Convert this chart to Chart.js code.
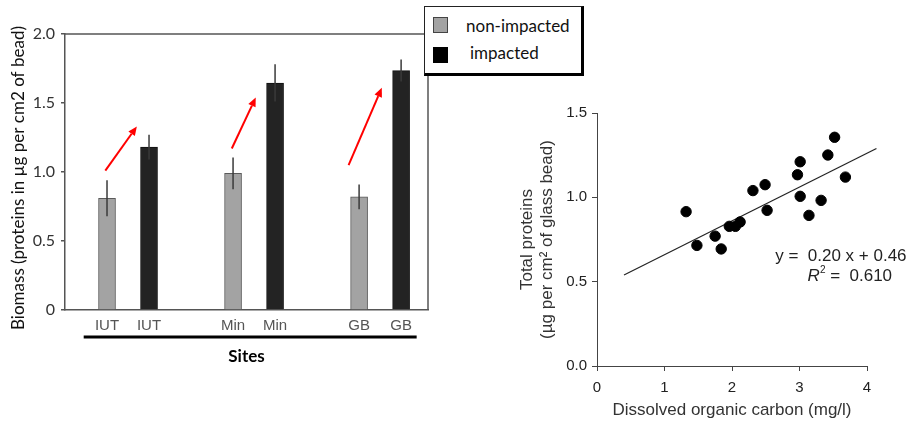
<!DOCTYPE html>
<html>
<head>
<meta charset="utf-8">
<script src="https://cdn.jsdelivr.net/npm/chart.js@4.4.0/dist/chart.umd.min.js"></script>
<style>
    html, body { margin: 0; padding: 0; background: #fff; }
    body { width: 907px; height: 423px; position: relative; overflow: hidden; }
    #barBox { position: absolute; left: 0; top: 0; width: 440px; height: 380px; }
    #scatterBox { position: absolute; left: 500px; top: 90px; width: 407px; height: 333px; }
    .legend {
        position: absolute; left: 424px; top: 6px; width: 156px; height: 66px;
        background: #fff; border: 1px solid #222; border-right: 3px solid #000; border-bottom: 3px solid #000;
        font-family: Lato, sans-serif; font-size: 17px; color: #111; z-index: 2;
    }
    .legend .sw { position: absolute; left: 8px; width: 13px; height: 14px; border: 1px solid #444; }
    .legend .lbl { position: absolute; line-height: 20px; }
</style>
</head>
<body>
<div id="barBox"><canvas id="barChart" width="440" height="380"></canvas></div>
<div id="scatterBox"><canvas id="scatterChart" width="407" height="333"></canvas></div>
<div class="legend">
    <div class="sw" style="top:10px; background:#a3a3a3;"></div>
    <div class="lbl" style="left:41px; top:9px;">non-impacted</div>
    <div class="sw" style="top:40px; background:#000; border-color:#000;"></div>
    <div class="lbl" style="left:45px; top:36px;">impacted</div>
</div>
<script>
// ---- left chart: biomass per site ----
const siteLabels = ['IUT', 'IUT', 'Min', 'Min', 'GB', 'GB'];
const siteTicks = [1, 2, 4, 5, 7, 8];
const nonImpactedX = [1, 4, 7];
const nonImpacted = [0.81, 0.99, 0.82];
const nonImpactedErr = [0.13, 0.115, 0.09];
const impactedX = [2, 5, 8];
const impacted = [1.18, 1.645, 1.735];
const impactedErr = [0.09, 0.135, 0.08];
const biomassTicks = [0, 0.5, 1.0, 1.5, 2.0];
const biomassTitle = 'Biomass (proteins in µg per cm2 of bead)';

// red arrows (data coordinates)
const arrowStartX = [0.96, 3.97, 6.75];
const arrowStartY = [1.01, 1.17, 1.05];
const arrowEndX = [1.71, 4.54, 7.54];
const arrowEndY = [1.33, 1.54, 1.61];
const sitesLineX = [0.445, 8.37];

// ---- right chart: proteins vs DOC ----
const docX = [1.32, 1.48, 1.75, 1.84, 1.96, 2.05, 2.12, 2.31, 2.49, 2.52, 2.97, 3.01, 3.01, 3.14, 3.32, 3.42, 3.52, 3.68];
const proteinY = [0.915, 0.715, 0.77, 0.694, 0.828, 0.828, 0.854, 1.04, 1.075, 0.923, 1.134, 1.211, 1.006, 0.893, 0.982, 1.251, 1.356, 1.12];
const fitX = [0.4, 4.14];
const fitY = [0.54, 1.29];
const eqText = 'y =  0.20 x + 0.46';
const r2Text = ' =  0.610';
const eqPos = { x: 2.64, y: 0.652 };
const r2Pos = { x: 3.12, y: 0.533 };

const toPoints = (xs, ys) => xs.map((v, i) => ({ x: v, y: ys[i] }));

// error bars, top/right frame, arrows, bracket line under labels, y title
const barExtras = {
    id: 'barExtras',
    afterDatasetsDraw(chart) {
        const { ctx, chartArea, scales: { x, y } } = chart;
        ctx.save();
        // error bars
        chart.data.datasets.forEach(ds => {
            ds.data.forEach((p, i) => {
                const px = x.getPixelForValue(p.x);
                ctx.strokeStyle = '#3a3a3a';
                ctx.lineWidth = 1.5;
                ctx.beginPath();
                ctx.moveTo(px, y.getPixelForValue(p.y + ds.errors[i]));
                ctx.lineTo(px, y.getPixelForValue(p.y - ds.errors[i]));
                ctx.stroke();
            });
        });
        // frame top & right
        ctx.strokeStyle = '#555';
        ctx.lineWidth = 1.5;
        ctx.beginPath();
        ctx.moveTo(chartArea.left, chartArea.top);
        ctx.lineTo(chartArea.right, chartArea.top);
        ctx.lineTo(chartArea.right, chartArea.bottom);
        ctx.stroke();
        // arrows
        ctx.strokeStyle = ctx.fillStyle = '#ff0000';
        ctx.lineWidth = 2;
        arrowStartX.forEach((_, i) => {
            const x1 = x.getPixelForValue(arrowStartX[i]), y1 = y.getPixelForValue(arrowStartY[i]);
            const x2 = x.getPixelForValue(arrowEndX[i]), y2 = y.getPixelForValue(arrowEndY[i]);
            const a = Math.atan2(y2 - y1, x2 - x1);
            const head = 9, half = 4;
            const bx = x2 - head * Math.cos(a), by = y2 - head * Math.sin(a);
            ctx.beginPath();
            ctx.moveTo(x1, y1);
            ctx.lineTo(bx, by);
            ctx.stroke();
            ctx.beginPath();
            ctx.moveTo(x2, y2);
            ctx.lineTo(bx + half * Math.sin(a), by - half * Math.cos(a));
            ctx.lineTo(bx - half * Math.sin(a), by + half * Math.cos(a));
            ctx.closePath();
            ctx.fill();
        });
        // black line grouping the site labels
        ctx.strokeStyle = '#000';
        ctx.lineWidth = 3;
        ctx.beginPath();
        ctx.moveTo(x.getPixelForValue(sitesLineX[0]), chartArea.bottom + 27);
        ctx.lineTo(x.getPixelForValue(sitesLineX[1]), chartArea.bottom + 27);
        ctx.stroke();
        // y axis title (a bit lower than the axis centre, as in the original)
        ctx.translate(18.5, (chartArea.top + chartArea.bottom) / 2 + 6);
        ctx.rotate(-Math.PI / 2);
        ctx.fillStyle = '#111';
        ctx.font = '17px Lato, sans-serif';
        ctx.textAlign = 'center';
        ctx.textBaseline = 'middle';
        ctx.fillText(biomassTitle, 0, 0);
        ctx.restore();
    }
};

new Chart(document.getElementById('barChart'), {
    type: 'bar',
    data: {
        datasets: [
            {
                label: 'non-impacted',
                data: toPoints(nonImpactedX, nonImpacted),
                errors: nonImpactedErr,
                backgroundColor: '#a3a3a3',
                borderColor: '#5a5a5a',
                borderWidth: 1
            },
            {
                label: 'impacted',
                data: toPoints(impactedX, impacted),
                errors: impactedErr,
                backgroundColor: '#232323',
                borderColor: '#111',
                borderWidth: 1
            }
        ]
    },
    options: {
        responsive: false,
        animation: false,
        grouped: false,
        barThickness: 17,
        layout: { padding: { top: 34, right: 12, left: 0, bottom: 0 } },
        plugins: { legend: { display: false }, tooltip: { enabled: false } },
        scales: {
            x: {
                type: 'linear',
                min: 0,
                max: 8.64,
                offset: false,
                grid: { display: false },
                border: { display: true, color: '#555', width: 1.5 },
                afterBuildTicks: s => { s.ticks = siteTicks.map(v => ({ value: v })); },
                afterFit: s => { s.height = 70; },
                ticks: {
                    autoSkip: false,
                    maxRotation: 0,
                    padding: -1,
                    color: '#555',
                    font: { family: "'Liberation Sans', Arial, sans-serif", size: 15 },
                    callback: (v, i) => siteLabels[i]
                },
                title: {
                    display: true,
                    text: 'Sites',
                    color: '#000',
                    font: { family: 'Lato, sans-serif', size: 17, weight: 'bold' },
                    padding: { top: 0, bottom: 13 }
                }
            },
            y: {
                min: 0,
                max: 2,
                afterBuildTicks: s => { s.ticks = biomassTicks.map(v => ({ value: v })); },
                afterFit: s => { s.width = 65; },
                grid: { display: true, drawOnChartArea: false, drawTicks: true, tickLength: 4, color: '#555', lineWidth: 1.5 },
                border: { display: true, color: '#555', width: 1.5 },
                ticks: {
                    padding: 6,
                    color: '#333',
                    font: { family: 'Lato, sans-serif', size: 16 },
                    callback: v => v === 0 ? '0' : v.toFixed(1)
                },
                title: { display: false }
            }
        }
    },
    plugins: [barExtras]
});

// regression equation text
const eqLabel = {
    id: 'eqLabel',
    afterDatasetsDraw(chart) {
        const { ctx, scales: { x, y } } = chart;
        const font = "'Liberation Sans', Arial, sans-serif";
        ctx.save();
        ctx.fillStyle = '#222';
        ctx.textBaseline = 'middle';
        ctx.font = '17px ' + font;
        ctx.fillText(eqText, x.getPixelForValue(eqPos.x), y.getPixelForValue(eqPos.y));
        let rx = x.getPixelForValue(r2Pos.x);
        const ry = y.getPixelForValue(r2Pos.y);
        ctx.font = 'italic 17px ' + font;
        ctx.fillText('R', rx, ry);
        rx += ctx.measureText('R').width;
        ctx.font = '10px ' + font;
        ctx.fillText('2', rx, ry - 6);
        rx += ctx.measureText('2').width;
        ctx.font = '17px ' + font;
        ctx.fillText(r2Text, rx, ry);
        ctx.restore();
    }
};

const arial = "'Liberation Sans', Arial, sans-serif";
new Chart(document.getElementById('scatterChart'), {
    type: 'scatter',
    data: {
        datasets: [
            {
                label: 'samples',
                data: toPoints(docX, proteinY),
                backgroundColor: '#000',
                borderColor: '#000',
                pointRadius: 5.2,
                pointHoverRadius: 5.2
            },
            {
                label: 'fit',
                type: 'line',
                data: toPoints(fitX, fitY),
                borderColor: '#222',
                borderWidth: 1.2,
                pointRadius: 0,
                fill: false,
                clip: false
            }
        ]
    },
    options: {
        responsive: false,
        animation: false,
        layout: { padding: { top: 23, right: 40, left: 0, bottom: 0 } },
        plugins: { legend: { display: false }, tooltip: { enabled: false } },
        scales: {
            x: {
                type: 'linear',
                min: 0,
                max: 4,
                afterFit: s => { s.height = 57; },
                grid: { display: true, drawOnChartArea: false, drawTicks: true, tickLength: 5, color: '#444' },
                border: { display: true, color: '#444', width: 1 },
                ticks: { stepSize: 1, padding: 8, color: '#222', font: { family: arial, size: 15 } },
                title: {
                    display: true,
                    text: 'Dissolved organic carbon (mg/l)',
                    color: '#333',
                    font: { family: arial, size: 17 },
                    padding: { top: 0, bottom: 2 }
                }
            },
            y: {
                min: 0,
                max: 1.5,
                afterFit: s => { s.width = 97; },
                grid: { display: true, drawOnChartArea: false, drawTicks: true, tickLength: 5, color: '#444' },
                border: { display: true, color: '#444', width: 1 },
                ticks: { stepSize: 0.5, padding: 5, color: '#222', font: { family: arial, size: 15 }, callback: v => v.toFixed(1) },
                title: {
                    display: true,
                    text: ['Total proteins', '(µg per cm² of glass bead)'],
                    color: '#333',
                    font: { family: arial, size: 17, lineHeight: 1.15 },
                    padding: { top: 18, bottom: 0 }
                }
            }
        }
    },
    plugins: [eqLabel]
});
</script>
</body>
</html>
